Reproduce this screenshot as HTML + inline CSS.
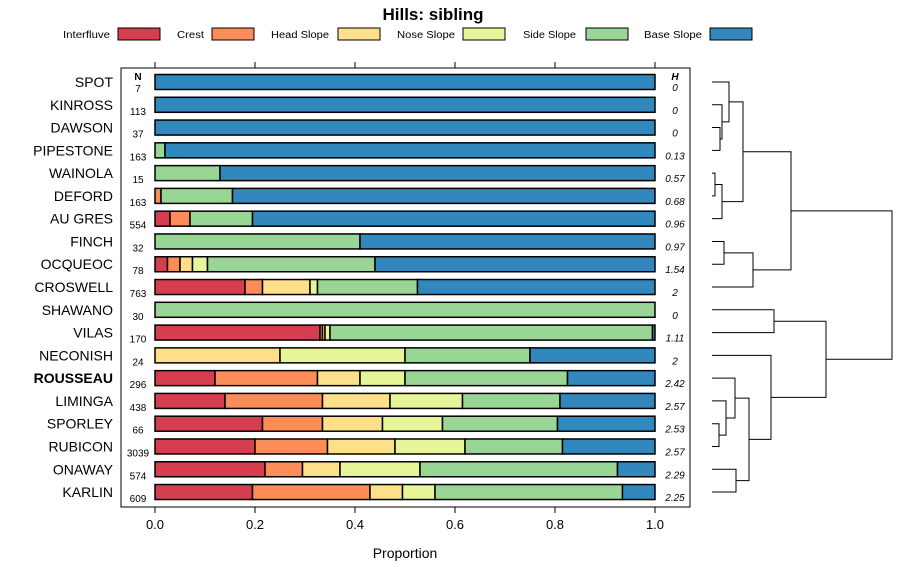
<!DOCTYPE html>
<html><head><meta charset="utf-8"><style>
body{margin:0;background:#fff;}
svg{font-family:"Liberation Sans",sans-serif;}
</style></head><body>
<svg id="chart" width="900" height="580" viewBox="0 0 900 580">
<text x="433" y="20" text-anchor="middle" font-size="17" font-weight="bold">Hills: sibling</text>
<g id="legend"></g>
<rect x="121" y="68" width="569" height="439" fill="none" stroke="#000" stroke-width="1"/>
<g id="bars"></g>
<g id="axis"></g>
<g id="dendro" stroke="#000" fill="none" stroke-width="1"></g>
<text x="405" y="558" text-anchor="middle" font-size="14">Proportion</text>
<text x="138" y="80" text-anchor="middle" font-size="10" font-weight="bold">N</text>
<text x="675" y="80" text-anchor="middle" font-size="10" font-weight="bold" font-style="italic">H</text>
</svg>
<script>
const NS="http://www.w3.org/2000/svg";
const classes=["Interfluve","Crest","Head Slope","Nose Slope","Side Slope","Base Slope"];
const colors=["#D53E4F","#FC8D59","#FEE08B","#E6F598","#99D594","#3288BD"];
const series=["SPOT","KINROSS","DAWSON","PIPESTONE","WAINOLA","DEFORD","AU GRES","FINCH","OCQUEOC","CROSWELL","SHAWANO","VILAS","NECONISH","ROUSSEAU","LIMINGA","SPORLEY","RUBICON","ONAWAY","KARLIN"];
const nValues=[7,113,37,163,15,163,554,32,78,763,30,170,24,296,438,66,3039,574,609];
const hValues=["0","0","0","0.13","0.57","0.68","0.96","0.97","1.54","2","0","1.11","2","2.42","2.57","2.53","2.57","2.29","2.25"];
// proportions: interfluve, crest, head, nose, side, base
const props=[
[0,0,0,0,0,1],[0,0,0,0,0,1],[0,0,0,0,0,1],
[0,0,0,0,0.02,0.98],
[0,0,0,0,0.13,0.87],
[0,0.012,0,0,0.143,0.845],
[0.03,0.04,0,0,0.125,0.805],
[0,0,0,0,0.41,0.59],
[0.025,0.025,0.025,0.03,0.335,0.56],
[0.18,0.035,0.095,0.015,0.2,0.475],
[0,0,0,0,1,0],
[0.33,0.005,0.005,0.01,0.645,0.005],
[0,0,0.25,0.25,0.25,0.25],
[0.12,0.205,0.085,0.09,0.325,0.175],
[0.14,0.195,0.135,0.145,0.195,0.19],
[0.215,0.12,0.12,0.12,0.23,0.195],
[0.2,0.145,0.135,0.14,0.195,0.185],
[0.22,0.075,0.075,0.16,0.395,0.075],
[0.195,0.235,0.065,0.065,0.375,0.065]];
const xTicks=[0,0.2,0.4,0.6,0.8,1.0];
const xTickLabels=["0.0","0.2","0.4","0.6","0.8","1.0"];
// dendrogram merges: [left, right, height]; negative = leaf index, positive = merge number (1-based)
const merges=[
[-3,-4,0.4],[-2,1,0.5],[-1,2,0.85],
[-5,-6,0.15],[4,-7,0.5],[3,5,1.55],
[-8,-9,0.6],[7,-10,2.05],[6,8,3.95],
[-11,-12,3.1],
[-16,-17,0.35],[-15,11,0.7],[-14,12,1.15],[-18,-19,1.2],[13,14,1.85],[-13,15,2.95],[10,16,5.7],
[9,17,9.0]];

function el(tag,attrs,parent,name,inter){const e=document.createElementNS(NS,tag);for(const k in attrs)e.setAttribute(k,attrs[k]);


parent.appendChild(e);return e;}
const X0=155,X1=655;const xs=v=>X0+v*(X1-X0);
const ys=i=>82+i*22.78;
// legend
const lg=document.getElementById('legend');
const lx=[[63,47,118],[177,27,212],[271,58,338],[397,58,463],[523,53,586],[644,58,710]];
classes.forEach((c,i)=>{
 const t=el('text',{x:lx[i][0],y:38,'font-size':10,fill:'#000',textLength:lx[i][1],lengthAdjust:'spacingAndGlyphs'},lg,'legend-label-'+i,false);t.textContent=c;
 el('rect',{x:lx[i][2],y:28,width:42,height:12,fill:colors[i],stroke:'#000','stroke-width':1},lg,'legend-swatch-'+i,true);
});
// bars
const bg=document.getElementById('bars');
series.forEach((s,i)=>{
 const y=ys(i);
 const lab=el('text',{x:113,y:y+5,'font-size':14,'text-anchor':'end','font-weight':s==='ROUSSEAU'?'bold':'normal'},bg,'row-label-'+s.toLowerCase().replace(' ','-'),false);lab.textContent=s;
 let c=0;
 props[i].forEach((p,k)=>{ if(p<=0)return;
  el('rect',{x:xs(c),y:y-7.5,width:xs(c+p)-xs(c),height:15,fill:colors[k],stroke:'#000','stroke-width':1.5},bg,'bar-'+s.toLowerCase().replace(' ','-')+'-'+k,true);
  c+=p;});
 const n=el('text',{x:138,y:y+10,'font-size':10,'text-anchor':'middle'},bg,'n-value',false);n.textContent=nValues[i];
 const h=el('text',{x:675,y:y+9,'font-size':10,'text-anchor':'middle','font-style':'italic'},bg,'h-value',false);h.textContent=hValues[i];
});
// axis
const ax=document.getElementById('axis');
xTicks.forEach((v,i)=>{
 el('line',{x1:xs(v),x2:xs(v),y1:507,y2:513,stroke:'#000'},ax,'x-tick',false);
 el('line',{x1:xs(v),x2:xs(v),y1:62,y2:68,stroke:'#000'},ax,'x-tick-top',false);
 const t=el('text',{x:xs(v),y:529,'font-size':13,'text-anchor':'middle'},ax,'x-tick-label',false);t.textContent=xTickLabels[i];
});
// dendrogram
const dg=document.getElementById('dendro');
const XL=712,HS=20;const hx=h=>XL+h*HS;
const nodes=[];
function pos(r){ if(r<0)return {x:XL,y:ys(-r-1)}; return nodes[r-1];}
merges.forEach((m,i)=>{
 const a=pos(m[0]),b=pos(m[1]),x=hx(m[2]);
 el('path',{d:`M${a.x},${a.y}H${x}V${b.y}H${b.x}`},dg,'dendro-link',false);
 nodes.push({x:x,y:(a.y+b.y)/2});
});
</script>
</body></html>
